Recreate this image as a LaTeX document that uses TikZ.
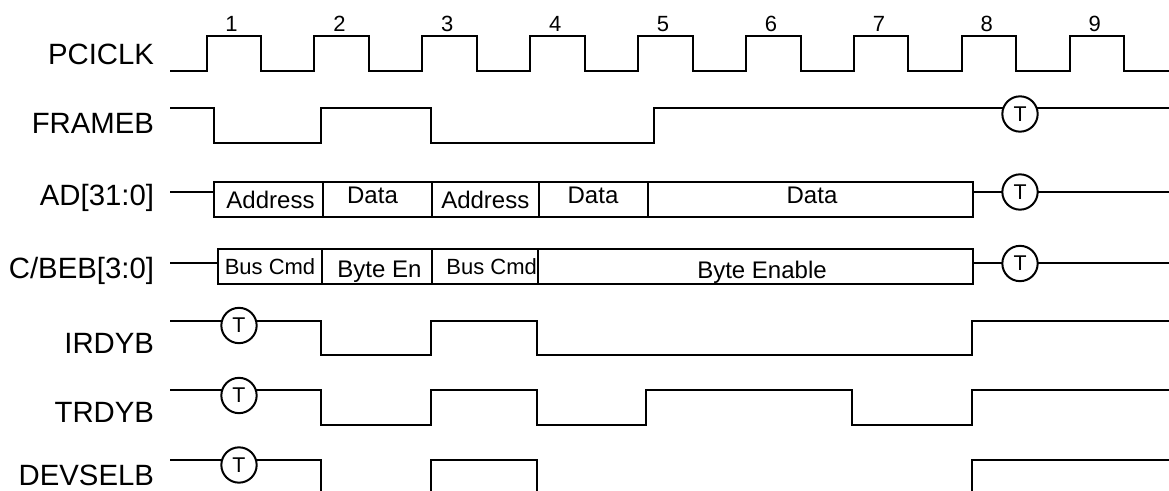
\documentclass[tikz,border=0pt]{standalone}
\usepackage{fontspec}
\setmainfont{Liberation Sans}

\tikzset{every picture/.style={line width=1.5pt}}
\tikzset{
  signame/.style={font=\fontsize{22}{26}\selectfont, anchor=base east, inner sep=0pt, text depth=0pt},
  clknum/.style={font=\fontsize{16.5}{19}\selectfont, anchor=base, inner sep=0pt},
  field/.style={font=\fontsize{18}{21}\selectfont, anchor=base, inner sep=0pt},
  fieldsm/.style={font=\fontsize{16.5}{20}\selectfont, anchor=base, inner sep=0pt},
  tmark/.style={draw, circle, fill=white, inner sep=0pt, minimum size=26.5pt, font=\fontsize{16}{18}\selectfont}
}

\begin{document}
\begin{tikzpicture}[x=0.75pt,y=0.75pt,yscale=-1,xscale=1]
\useasboundingbox (0,0) rectangle (1169,491);

% Signal names
\node [signame] (nclk) at (155,65) {PCICLK};
\node [signame] (nframe) at (155,134) {FRAMEB};
\node [signame] (nad) at (155,206) {AD[31:0]};
\node [signame] (ncbe) at (155,278) {C/BEB[3:0]};
\node [signame] (nirdy) at (155,353.3) {IRDYB};
\node [signame] (ntrdy) at (155,422.7) {TRDYB};
\node [signame] (ndevsel) at (155,485.5) {DEVSELB};

%PCICLK
\draw (170,71.5) -- (206.5,71.5) -- (206.5,36) -- (261,36) -- (261,71.5) -- (314.4,71.5) -- (314.4,36) -- (368.9,36) -- (368.9,71.5) -- (422.3,71.5) -- (422.3,36) -- (476.8,36) -- (476.8,71.5) -- (530.2,71.5) -- (530.2,36) -- (584.7,36) -- (584.7,71.5) -- (638.1,71.5) -- (638.1,36) -- (692.6,36) -- (692.6,71.5) -- (746,71.5) -- (746,36) -- (800.5,36) -- (800.5,71.5) -- (853.9,71.5) -- (853.9,36) -- (908.4,36) -- (908.4,71.5) -- (961.8,71.5) -- (961.8,36) -- (1016.3,36) -- (1016.3,71.5) -- (1069.7,71.5) -- (1069.7,36) -- (1124.2,36) -- (1124.2,71.5) -- (1169,71.5) ;
% Clock numbers
\node [clknum] (c1) at (231.5,32) {1};
\node [clknum] (c2) at (339.4,32) {2};
\node [clknum] (c3) at (447.3,32) {3};
\node [clknum] (c4) at (555.2,32) {4};
\node [clknum] (c5) at (663.1,32) {5};
\node [clknum] (c6) at (771,32) {6};
\node [clknum] (c7) at (878.9,32) {7};
\node [clknum] (c8) at (986.8,32) {8};
\node [clknum] (c9) at (1094.7,32) {9};

%FRAMEB
\draw (170,108.5) -- (214,108.5) -- (214,143) -- (321,143) -- (321,108.5) -- (431,108.5) -- (431,143) -- (654,143) -- (654,108.5) -- (1169,108.5) ;
\node [tmark] (tframe) at (1020,114) {T};

%AD[31:0]
\draw (170,192) -- (214,192) ;
\draw (214,182) rectangle (972.5,217) ;
\draw (322.5,182) -- (322.5,217) ;
\draw (431.7,182) -- (431.7,217) ;
\draw (538.8,182) -- (538.8,217) ;
\draw (647.6,182) -- (647.6,217) ;
\draw (972.5,192) -- (1169,192) ;
\node [tmark] (tad) at (1020,192) {T};
\node [field] (addr1) at (270.5,208.3) {Address};
\node [field] (data1) at (372.5,204) {Data};
\node [field] (addr2) at (485.3,208.3) {Address};
\node [field] (data2) at (593,204) {Data};
\node [field] (data3) at (812,204) {Data};

%C/BEB[3:0]
\draw (170,263.5) -- (218,263.5) ;
\draw (218,249) rectangle (972.5,284.5) ;
\draw (322.3,249) -- (322.3,284.5) ;
\draw (431.7,249) -- (431.7,284.5) ;
\draw (538.3,249) -- (538.3,284.5) ;
\draw (972.5,263.5) -- (1169,263.5) ;
\node [tmark] (tcbe) at (1020,263.5) {T};
\node [fieldsm] (cmd1) at (270,275) {Bus Cmd};
\node [field] (ben1) at (379.5,277.3) {Byte En};
\node [fieldsm] (cmd2) at (491.7,275) {Bus Cmd};
\node [field] (ben2) at (762,278) {Byte Enable};

%IRDYB
\draw (170,320.7) -- (321,320.7) -- (321,355.3) -- (431,355.3) -- (431,320.7) -- (537,320.7) -- (537,355.3) -- (971.5,355.3) -- (971.5,320.7) -- (1169,320.7) ;
\node [tmark] (tirdy) at (239,325.5) {T};

%TRDYB
\draw (170,390) -- (321,390) -- (321,425.3) -- (431,425.3) -- (431,390) -- (537,390) -- (537,425.3) -- (646,425.3) -- (646,390) -- (852,390) -- (852,425.3) -- (971.5,425.3) -- (971.5,390) -- (1169,390) ;
\node [tmark] (ttrdy) at (239,395.5) {T};

%DEVSELB
\draw (170,460.3) -- (321,460.3) -- (321,491) ;
\draw (431,491) -- (431,460.3) -- (537,460.3) -- (537,491) ;
\draw (971.5,491) -- (971.5,460.3) -- (1169,460.3) ;
\node [tmark] (tdevsel) at (239,465) {T};
\end{tikzpicture}
\end{document}
